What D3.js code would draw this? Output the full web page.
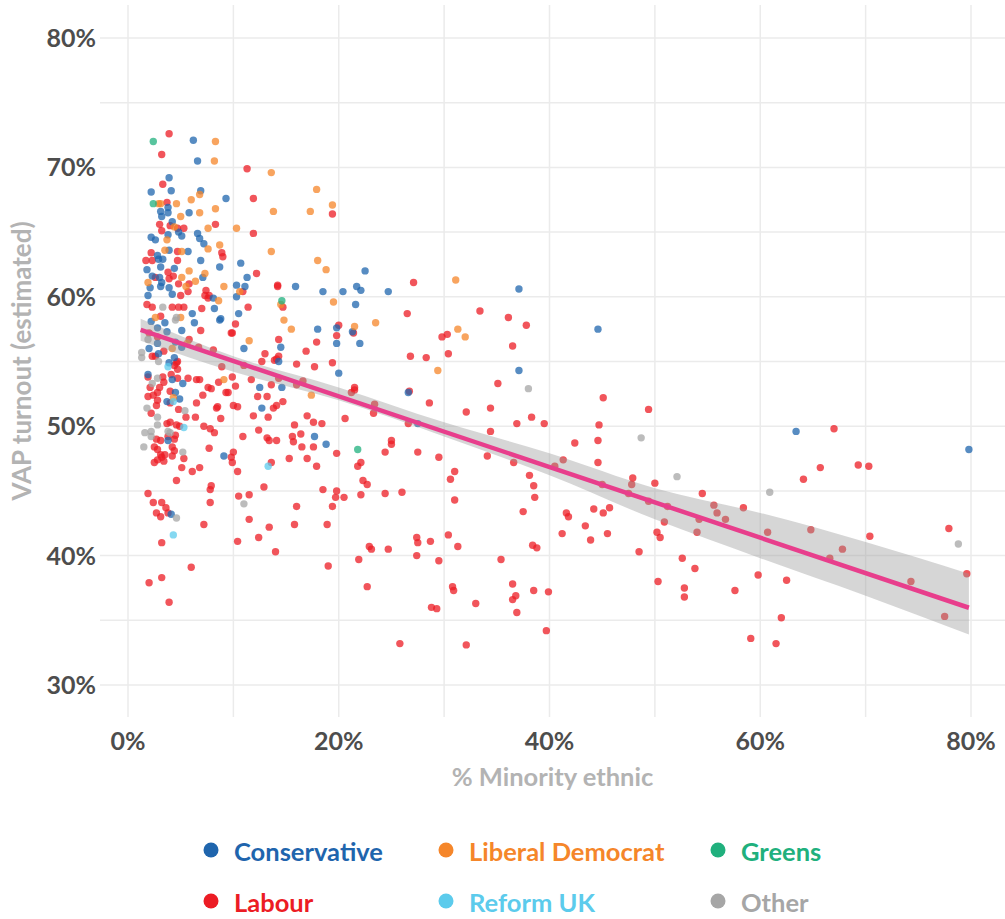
<!DOCTYPE html>
<html lang="en">
<head>
<meta charset="UTF-8">
<title>VAP turnout by minority ethnic share</title>
<script src="https://d3js.org/d3.v7.min.js"></script>
<style>
    body { margin: 0; background: #fff; }
    svg text { font-family: Lato, "Open Sans", sans-serif; font-weight: bold; }
</style>
</head>
<body>
<div id="chart"></div>
<script>
    // [% minority ethnic, VAP turnout %] per winning party
    const conservative = [[6.2,72.1],[6.6,70.5],[2.2,68.1],[3.9,69.2],[4.1,68.2],[6.9,68.2],[9.3,67.6],[3.8,66.9],[3.1,66.6],[3.8,66.5],[5.8,66.5],[3.2,66.2],[4.2,65.8],[6.6,64.9],[2.2,64.6],[2.6,64.4],[3.8,64.8],[4.8,65.0],[5.1,64.7],[6.8,64.5],[7.2,64.1],[2.8,63.2],[3.9,63.6],[5.7,63.5],[2.9,62.9],[3.3,62.9],[6.9,62.8],[1.8,62.1],[3.1,62.3],[4.4,62.2],[7.1,61.5],[8.7,62.3],[2.3,61.6],[3.0,61.5],[3.2,61.1],[3.1,60.8],[2.1,60.7],[3.9,60.7],[4.2,60.2],[1.9,60.1],[8.1,59.9],[6.1,58.7],[8.2,59.1],[8.8,58.3],[2.2,58.1],
        [2.0,56.0],[2.8,56.4],[2.9,55.6],[4.4,55.3],[3.9,54.9],[4.5,56.5],[5.1,56.1],[6.3,58.0],[5.1,57.4],[3.7,57.3],[2.8,57.6],[3.5,58.0],[8.7,58.2],[1.9,54.0],[4.2,53.6],[5.2,53.3],[4.5,52.6],[4.9,52.1],[3.7,51.9],[3.8,48.9],[9.1,47.7],[4.1,43.2],
        [12.7,51.4],[17.7,49.2],[18.8,48.6],[26.6,52.6],[27.5,50.2],
        [22.5,62.0],[10.7,62.6],[11.3,61.5],[10.3,60.9],[11.1,60.8],[10.3,60.0],[15.9,60.8],[18.5,60.4],[20.4,60.4],[21.7,60.8],[22.1,60.5],[24.7,60.4],[10.5,58.7],[21.6,59.4],[18.0,57.5],[19.8,57.6],[21.3,57.3],[19.8,56.4],[22.0,56.4],[11.0,56.0],[14.5,56.1],[14.3,55.0],[20.0,54.1],[12.5,53.0],[14.6,53.0],
        [37.1,60.6],[44.6,57.5],[37.1,54.3],[63.4,49.6],[79.8,48.2]];

    const libDem = [[8.3,72.0],[8.2,70.5],[13.6,69.6],[6.8,67.9],[6.0,67.5],[2.9,67.2],[3.1,67.2],[4.6,67.2],[5.0,66.2],[6.8,66.5],[8.3,66.8],[4.4,65.4],[7.6,65.3],[3.7,64.4],[8.7,64.0],[3.5,63.6],[5.1,63.5],[7.6,63.7],[5.8,62.0],[7.3,61.8],[5.1,61.5],[1.9,61.1],[5.5,60.8],[6.4,61.2],[9.1,60.8],[8.6,59.7],[2.6,58.4],[5.0,58.4],
        [4.2,56.0],[5.6,56.4],[9.1,53.6],[4.3,52.2],
        [17.9,68.3],[13.8,66.6],[17.3,66.6],[19.4,67.1],[10.3,65.3],[13.6,63.5],[18.0,62.8],[18.8,62.1],[10.6,60.4],[14.5,59.4],[19.5,59.6],[14.8,58.2],[15.5,57.5],[21.5,57.7],[23.5,58.0],[11.5,56.6],[29.4,54.3],[17.4,52.4],
        [31.1,61.3],[31.3,57.5],[32.0,56.9]];

    const greens = [[2.4,72.0],[2.4,67.2],[14.6,59.7],[21.8,48.2]];

    const reform = [[3.8,54.6],[4.3,51.9],[5.3,49.9],[4.3,41.6],[13.3,46.9]];

    const other = [[1.3,55.7],[1.3,55.3],[1.9,56.7],[2.9,55.0],[3.3,59.2],[4.6,58.4],[4.5,58.2],[2.3,53.3],[2.8,53.7],[1.8,51.4],[2.8,50.7],[5.4,51.2],[2.8,50.1],[1.6,49.5],[2.2,49.6],[2.2,49.2],[3.8,49.6],[4.0,49.5],[1.5,48.4],[5.2,48.0],[4.6,42.9],[11.0,44.0],[38.0,52.9],[48.7,49.1],[52.1,46.1],[60.9,44.9],[78.8,40.9]];

    const labour = [[3.9,72.6],[3.2,71.0],[11.3,69.9],[3.3,68.7],[3.7,67.3],[3.0,65.6],[4.0,65.5],[4.7,65.3],[5.3,65.3],[8.3,65.6],[3.2,65.1],[2.2,63.4],[1.7,62.8],[4.7,63.5],[8.9,63.4],[9.0,63.1],[2.3,62.8],[4.7,62.8],[3.8,61.9],[2.6,61.5],[3.9,61.4],[4.3,61.6],[4.8,61.0],[5.8,61.0],[7.4,60.5],[7.7,60.1],[5.0,60.1],[5.7,60.4],[7.3,60.1],[7.6,59.9],[1.8,59.4],[2.3,59.2],[4.2,59.2],[4.8,59.2],[5.3,59.2],[3.1,58.5],[7.0,59.1],
        [2.3,55.4],[2.6,55.4],[3.4,55.8],[4.7,55.0],[4.4,54.7],[5.8,56.7],[6.9,57.4],[6.7,56.1],[8.1,55.9],[9.8,57.2],[2.8,56.9],[2.0,57.2],[4.6,54.9],[4.7,54.4],[1.9,53.8],[3.3,53.8],[3.4,53.4],[4.1,54.0],[4.7,53.7],[5.7,53.7],[6.5,53.6],[6.8,53.6],[8.9,54.6],[9.9,53.8],[8.6,53.4],[9.5,52.6],[7.6,53.0],[7.9,52.9],[2.1,53.0],[3.0,53.0],[4.0,52.7],[2.8,52.6],[2.4,52.4],[1.9,52.3],[2.8,52.0],[2.7,51.6],[4.0,51.8],[6.5,51.8],[7.1,52.4],[8.4,51.4],[8.5,51.5],[8.8,50.6],[9.3,52.6],[10.0,51.6],[2.2,51.0],[5.5,50.7],[6.4,50.7],[4.8,51.3],[3.7,50.2],[4.0,50.3],[4.6,50.1],[4.9,50.0],[2.7,49.0],[3.1,48.9],[3.8,49.2],[4.5,49.3],[4.4,49.0],[7.2,50.0],[7.8,49.8],[8.2,49.5],[2.5,48.4],[2.8,48.2],[4.2,48.4],[4.4,48.1],[3.5,47.8],[3.1,47.8],[7.7,48.3],[9.8,47.6],[9.9,47.2],[2.5,47.2],[2.8,47.4],[3.2,47.6],[3.4,47.3],[4.2,47.7],[5.1,46.8],[5.3,47.5],[6.1,46.5],[6.8,46.8],[4.6,45.8],[7.9,45.4],[7.8,45.1],[1.9,44.8],[2.4,44.1],[3.2,44.1],[3.6,43.7],[3.8,43.3],[2.7,43.3],[3.1,43.0],[7.8,44.1],[7.2,42.4],
        [3.2,41.0],[2.0,37.9],[3.2,38.3],[3.9,36.4],[6.0,39.1],[10.4,41.1],[10.5,44.6],[11.5,44.7],[11.5,42.8],[10.4,46.5],[12.4,41.4],[12.9,45.3],[13.4,42.2],[14.0,40.3],[13.6,47.2],[19.0,39.2],[18.9,42.4],[18.5,45.1],[19.4,43.8],[16.0,43.8],[15.8,42.4],[15.3,47.5],[17.0,47.5],[17.9,46.9],[19.8,47.9],
        [10.4,51.5],[11.9,50.8],[12.3,52.3],[13.2,52.3],[13.8,51.4],[14.1,51.6],[14.7,51.9],[13.3,50.7],[17.0,50.8],[17.6,50.3],[18.4,50.2],[15.8,50.1],[12.4,49.7],[10.9,49.2],[13.2,49.1],[13.4,48.9],[14.1,48.9],[15.6,49.2],[15.7,48.8],[16.4,49.4],[16.5,48.4],[17.6,48.4],[10.0,48.0],
        [19.8,45.0],[19.7,44.5],[20.5,44.5],[20.6,50.6],[21.2,52.6],[21.5,52.8],[21.8,46.9],[22.1,47.2],[22.3,45.8],[22.7,45.5],[22.1,44.7],[23.4,51.7],[23.3,51.0],[24.4,44.8],[26.0,44.9],[24.4,48.0],[25.0,48.9],[25.0,48.6],[22.9,40.7],[23.1,40.5],[24.7,40.5],[21.9,39.7],[22.7,37.6],[25.8,33.2],[26.6,50.2],[26.7,52.7],[28.6,51.8],[27.5,48.0],[27.4,41.4],[27.5,41.0],[27.4,40.0],[28.7,41.1],[28.8,36.0],[29.3,35.9],
        [11.9,67.6],[19.4,66.4],[11.9,64.9],[12.2,61.8],[10.9,60.4],[14.2,60.9],[14.2,60.8],[27.1,61.1],[14.7,59.2],[11.4,59.2],[10.2,57.9],[9.9,57.2],[20.0,57.8],[19.8,57.0],[21.4,57.2],[26.5,58.7],[14.3,56.7],[13.0,55.6],[16.9,55.8],[17.9,56.5],[14.3,55.4],[14.1,55.2],[13.9,55.1],[12.7,55.0],[11.0,54.7],[16.0,54.8],[17.7,54.6],[19.4,54.9],[26.8,55.4],[28.3,55.3],[10.2,53.1],[11.7,53.6],[13.6,53.2],[14.3,53.7],[16.0,53.2],[16.6,53.5],[21.5,53.0],
        [33.4,58.9],[36.1,58.4],[37.8,57.8],[29.8,56.9],[30.3,57.1],[36.5,56.2],[30.4,55.6],[35.1,53.3],[45.1,52.2],[49.4,51.3],[32.1,51.1],[34.4,51.4],[34.4,49.6],[36.9,50.2],[38.3,50.7],[39.5,50.2],[44.7,50.1],[44.6,48.9],[44.6,47.2],[42.4,48.7],[34.1,47.7],[36.6,47.2],[41.3,47.4],[40.5,46.9],[38.1,46.2],[38.5,45.4],[38.6,44.5],[37.5,43.4],[47.9,46.0],[47.8,45.5],[50.0,45.6],[47.5,44.8],[49.4,44.2],[50.9,42.6],[41.6,43.3],[41.8,43.0],[44.2,43.6],[45.1,43.3],[45.7,43.7],[43.4,42.3],[43.9,41.2],[45.5,41.7],[41.2,41.7],[50.2,41.8],[50.5,41.4],[48.5,40.3],[50.3,38.0],[38.4,40.8],[38.8,40.6],[35.4,39.7],[36.5,37.8],[36.8,36.9],[36.5,36.6],[36.9,35.6],[38.5,37.3],[39.9,37.2],[39.7,34.2],[33.0,36.3],[32.1,33.1],[30.8,37.6],[30.9,37.3],[30.4,41.6],[31.3,40.7],[29.5,39.6],[30.6,45.9],[31.0,46.5],[31.0,44.3],[29.5,47.6],[45.0,45.5],
        [67.0,49.8],[69.3,47.0],[70.3,46.9],[65.7,46.8],[64.1,45.9],[54.5,44.8],[55.6,43.9],[55.9,43.3],[56.7,42.8],[58.4,43.7],[51.2,43.8],[54.2,42.8],[54.0,41.8],[60.7,41.8],[64.8,42.0],[67.8,40.5],[66.6,39.8],[70.4,41.5],[77.9,42.1],[79.6,38.6],[74.3,38.0],[77.5,35.3],[52.6,39.8],[53.8,39.0],[52.8,37.5],[52.8,36.8],[59.8,38.5],[62.5,38.1],[57.6,37.3],[62.0,35.2],[59.1,33.6],[61.5,33.2]];

    // linear fit and its confidence band
    const fitX = [1.2, 79.8];
    const fitY = [57.45, 35.97];
    const bandX = [1.2, 10, 20, 30, 40, 50, 60, 70, 79.8];
    const bandLo = [56.6, 54.2, 52.0, 49.2, 46.2, 42.8, 39.8, 36.9, 33.9];
    const bandHi = [58.3, 55.4, 53.0, 50.3, 47.9, 45.2, 43.3, 41.05, 38.6];

    const xTicks = [0, 20, 40, 60, 80];
    const yTicks = [30, 40, 50, 60, 70, 80];
    const xGrid = [0, 10, 20, 30, 40, 50, 60, 70, 80];
    const yGrid = [30, 35, 40, 45, 50, 55, 60, 65, 70, 75, 80];

    const partyNames = ['Conservative', 'Liberal Democrat', 'Greens', 'Labour', 'Reform UK', 'Other'];
    const partyColors = ['#1f65ad', '#f5862a', '#20b07d', '#ec1c24', '#5ccbec', '#a6a6a6'];
    const partyData = [conservative, libDem, greens, labour, reform, other];
    const drawOrder = [3, 0, 1, 5, 2, 4];

    const width = 1005, height = 919;
    const panel = { left: 100, right: 1005, top: 5, bottom: 717 };

    const x = d3.scaleLinear().domain([0, 80]).range([128, 971]);
    const y = d3.scaleLinear().domain([30, 80]).range([685, 38]);

    const svg = d3.select('#chart').append('svg')
        .attr('width', width)
        .attr('height', height);

    // grid
    const grid = svg.append('g');
    grid.selectAll('.hgrid').data(yGrid).join('line')
        .attr('x1', panel.left).attr('x2', panel.right)
        .attr('y1', d => y(d)).attr('y2', d => y(d))
        .attr('stroke', '#ebebeb').attr('stroke-width', 1.5);
    grid.selectAll('.vgrid').data(xGrid).join('line')
        .attr('y1', panel.top).attr('y2', panel.bottom)
        .attr('x1', d => x(d)).attr('x2', d => x(d))
        .attr('stroke', '#ebebeb').attr('stroke-width', 1.5);

    // points
    const pts = svg.append('g');
    drawOrder.forEach(i => {
        pts.selectAll(null).data(partyData[i]).join('circle')
            .attr('cx', d => x(d[0]))
            .attr('cy', d => y(d[1]))
            .attr('r', 3.7)
            .attr('fill', partyColors[i])
            .attr('fill-opacity', 0.75);
    });

    // confidence band + fit line
    const band = d3.area()
        .x((d, i) => x(bandX[i]))
        .y0((d, i) => y(bandLo[i]))
        .y1((d, i) => y(bandHi[i]))
        .curve(d3.curveMonotoneX);
    svg.append('path')
        .attr('d', band(bandX))
        .attr('fill', '#999')
        .attr('fill-opacity', 0.4);

    svg.append('path')
        .attr('d', d3.line().x((d, i) => x(fitX[i])).y((d, i) => y(fitY[i]))(fitX))
        .attr('stroke', '#e83e8c')
        .attr('stroke-width', 4.5)
        .attr('fill', 'none');

    // axis labels
    svg.append('g').selectAll('text').data(yTicks).join('text')
        .attr('x', 96)
        .attr('y', d => y(d) + 9)
        .attr('text-anchor', 'end')
        .attr('font-size', 25)
        .attr('fill', '#4d4d4d')
        .text(d => d + '%');

    svg.append('g').selectAll('text').data(xTicks).join('text')
        .attr('x', d => x(d))
        .attr('y', 750)
        .attr('text-anchor', 'middle')
        .attr('font-size', 25)
        .attr('fill', '#4d4d4d')
        .text(d => d + '%');

    svg.append('text')
        .attr('x', (panel.left + panel.right) / 2)
        .attr('y', 786)
        .attr('text-anchor', 'middle')
        .attr('font-size', 25.5)
        .attr('fill', '#b3b3b3')
        .text('% Minority ethnic');

    svg.append('text')
        .attr('transform', `translate(31, ${(panel.top + panel.bottom) / 2}) rotate(-90)`)
        .attr('text-anchor', 'middle')
        .attr('font-size', 26)
        .attr('fill', '#b3b3b3')
        .text('VAP turnout (estimated)');

    // legend
    const legendX = [211, 446, 718];
    const legendY = [852, 903];
    const legend = svg.append('g');
    partyNames.forEach((name, i) => {
        const cx = legendX[i % 3], cy = legendY[Math.floor(i / 3)];
        legend.append('circle')
            .attr('cx', cx).attr('cy', cy - 2).attr('r', 7.5)
            .attr('fill', partyColors[i]);
        legend.append('text')
            .attr('x', cx + 23).attr('y', cy + 9)
            .attr('font-size', 25.5)
            .attr('fill', partyColors[i])
            .text(name);
    });
</script>
</body>
</html>
